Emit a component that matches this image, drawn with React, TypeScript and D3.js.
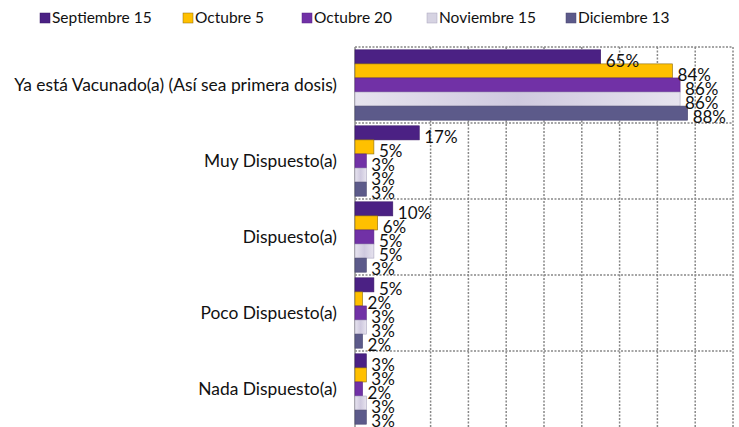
import React from "react";
import * as d3 from "d3";

const categories = [
  "Ya está Vacunado(a) (Así sea primera dosis)",
  "Muy Dispuesto(a)",
  "Dispuesto(a)",
  "Poco Dispuesto(a)",
  "Nada Dispuesto(a)",
];
const seriesNames = ["Septiembre 15", "Octubre 5", "Octubre 20", "Noviembre 15", "Diciembre 13"];
const sep15 = [65, 17, 10, 5, 3];
const oct5 = [84, 5, 6, 2, 3];
const oct20 = [86, 3, 5, 3, 2];
const nov15 = [86, 3, 5, 3, 3];
const dic13 = [88, 3, 3, 2, 3];
const gridTicks = [20, 30, 40, 50, 60, 70, 80, 90, 100];

const seriesValues = [sep15, oct5, oct20, nov15, dic13];
const colors = ["#4b2184", "#ffc000", "#7131a6", "url(#gNov)", "#5c5a8a"];
const strokes = ["#3a1868", "#8a6a10", "#5a2488", "#a9a3bd", "#48466f"];
const legendFill = ["#4b2184", "#ffc000", "#7131a6", "#d6d3e2", "#5c5a8a"];
const legendX = [40, 183, 302, 427, 566];

const W = 739;
const H = 427;
const left = 355;
const right = 733;
const top = 47;
const bottom = 427;
const font = "Lato, 'Open Sans', sans-serif";

export default function App() {
  const x = d3.scaleLinear().domain([0, 100]).range([left, right]);
  const y = d3.scaleBand<string>().domain(categories).range([top, bottom]).padding(0);
  const inner = d3
    .scaleBand<string>()
    .domain(seriesNames)
    .range([0, y.bandwidth()])
    .paddingInner(0)
    .paddingOuter(0.2);

  return (
    <svg
      width={W}
      height={H}
      style={{ position: "absolute", left: 0, top: 0, background: "#fff" }}
      fontFamily={font}
    >
      <defs>
        <linearGradient id="gNov" x1="0" x2="1" y1="0" y2="0">
          <stop offset="0%" stopColor="#e6e3ee" />
          <stop offset="50%" stopColor="#cfc9df" />
          <stop offset="100%" stopColor="#e6e3ee" />
        </linearGradient>
      </defs>
      <rect x={0} y={0} width={W} height={H} fill="#fff" />

      {/* legend */}
      {seriesNames.map((s, i) => (
        <g key={s}>
          <rect x={legendX[i]} y={13} width={10} height={10} fill={legendFill[i]} stroke={strokes[i]} strokeWidth={0.5} />
          <text x={legendX[i] + 12} y={23} fontSize={15.5} fill="#111">
            {s}
          </text>
        </g>
      ))}

      {/* grid */}
      {gridTicks.map((t) => (
        <line
          key={"v" + t}
          x1={x(t)}
          x2={x(t)}
          y1={top}
          y2={bottom}
          stroke="#888"
          strokeWidth={1.5}
          strokeDasharray="2,1.5"
        />
      ))}
      {categories.map((c) => (
        <line
          key={"h" + c}
          x1={left}
          x2={right}
          y1={y(c)!}
          y2={y(c)!}
          stroke="#888"
          strokeWidth={1.5}
          strokeDasharray="2,1.5"
        />
      ))}
      <line x1={left} x2={left} y1={top} y2={bottom} stroke="#8c8c8c" strokeWidth={1.5} />

      {/* bars */}
      {categories.map((c, ci) =>
        seriesNames.map((s, si) => {
          const v = seriesValues[si][ci];
          const by = y(c)! + inner(s)!;
          return (
            <rect
              key={c + s}
              x={x(0)}
              y={by}
              width={x(v) - x(0)}
              height={inner.bandwidth()}
              fill={colors[si]}
              stroke={strokes[si]}
              strokeWidth={0.6}
            />
          );
        })
      )}

      {/* value labels */}
      {categories.map((c, ci) =>
        seriesNames.map((s, si) => {
          const v = seriesValues[si][ci];
          const by = y(c)! + inner(s)! + inner.bandwidth() / 2;
          return (
            <text key={"t" + c + s} x={x(v) + 5} y={by + 10} fontSize={17} fill="#111">
              {v}%
            </text>
          );
        })
      )}

      {/* category labels */}
      {categories.map((c) => (
        <text
          key={"c" + c}
          x={337}
          y={y(c)! + y.bandwidth() / 2 + 6}
          textAnchor="end"
          fontSize={17.4}
          fill="#111"
        >
          {c}
        </text>
      ))}
    </svg>
  );
}
